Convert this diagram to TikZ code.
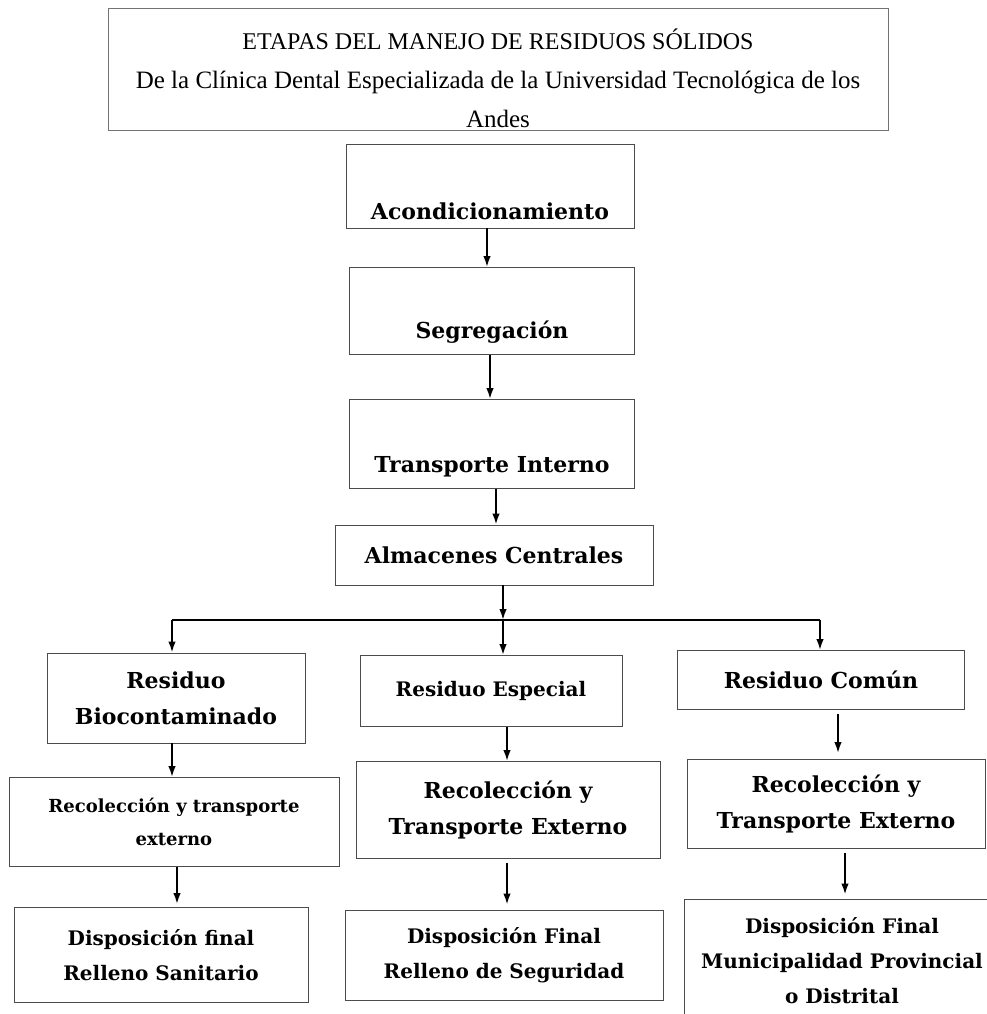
\documentclass[tikz,border=0pt]{standalone}
\usepackage{fontspec}
\setmainfont{DejaVu Serif}
\newfontfamily\titlefont{Liberation Serif}
\usetikzlibrary{arrows.meta}
\begin{document}
\begin{tikzpicture}[x=1pt, y=-1pt,
    box/.style={draw=black!70, line width=0.9pt, inner sep=0pt, align=center,
      font=\bfseries\fontsize{22}{36}\selectfont},
    arr/.style={-{Latex[length=11pt,width=7.5pt]}, line width=1.8pt}]
    \useasboundingbox (0,0) rectangle (987,1014);
    \clip (0,0) rectangle (987,1014);

    \node[box, draw=black!55, font=\titlefont\fontsize{25}{39}\selectfont,
      minimum width=780pt, text height=120pt, text depth=2pt] (title) at (498,69)
      {{\fontsize{24}{39}\selectfont ETAPAS DEL MANEJO DE RESIDUOS SÓLIDOS}\\
       De la Clínica Dental Especializada de la Universidad Tecnológica de los\\
       Andes};

    \node[box, minimum width=288pt, text height=75pt, text depth=9pt] (acond) at (490,186) {Acondicionamiento};
    \node[box, minimum width=285pt, text height=71pt, text depth=16pt] (segreg) at (492,311) {Segregación};
    \node[box, minimum width=285pt, text height=73pt, text depth=16pt] (transint) at (492,444) {Transporte Interno};
    \node[box, minimum width=318pt, minimum height=60pt] (almacen) at (494,555) {Almacenes Centrales};

    \node[box, minimum width=258pt, minimum height=90pt] (bio) at (176,698) {Residuo\\Biocontaminado};
    \node[box, font=\bfseries\fontsize{20}{35}\selectfont, minimum width=262pt, minimum height=71pt] (especial) at (491,691) {Residuo Especial};
    \node[box, minimum width=287pt, minimum height=59pt] (comun) at (821,680) {Residuo Común};

    \node[box, font=\bfseries\fontsize{18}{33}\selectfont, minimum width=330pt, minimum height=89pt] (recbio) at (174,822) {Recolección y transporte\\externo};
    \node[box, minimum width=304pt, minimum height=97pt] (recesp) at (508,810) {Recolección y\\Transporte Externo};
    \node[box, minimum width=298pt, minimum height=89pt] (reccom) at (836,804) {Recolección y\\Transporte Externo};

    \node[box, font=\bfseries\fontsize{20}{35}\selectfont, minimum width=294pt, minimum height=95pt] (dispbio) at (161,955) {Disposición final\\Relleno Sanitario};
    \node[box, font=\bfseries\fontsize{20}{35}\selectfont, minimum width=318pt, minimum height=90pt] (dispesp) at (504,955) {Disposición Final\\Relleno de Seguridad};
    \node[box, font=\bfseries\fontsize{20}{35}\selectfont, minimum width=315pt, minimum height=124pt] (dispcom) at (842,961) {Disposición Final\\Municipalidad Provincial\\o Distrital};

    \coordinate (split) at (503,620);
    \coordinate (hl) at (172,620);
    \coordinate (hr) at (820,620);

    \draw[arr] ([xshift=-3pt]acond.south) -- ([xshift=-3pt]acond.south |- segreg.north);
    \draw[arr] ([xshift=-2pt]segreg.south) -- ([xshift=-2pt]segreg.south |- transint.north);
    \draw[arr] ([xshift=4pt]transint.south) -- ([xshift=4pt]transint.south |- almacen.north);
    \draw[arr] (almacen.south -| split) -- (split);
    \draw[line width=1.8pt] (hl) -- (hr);
    \draw[arr] (hl) -- (hl |- bio.north);
    \draw[arr] (split) -- (split |- especial.north);
    \draw[arr] (hr) -- (hr |- comun.north);

    \draw[arr] ([xshift=-4pt]bio.south) -- ([xshift=-4pt]bio.south |- recbio.north);
    \draw[arr] ([xshift=16pt]especial.south) -- ([xshift=16pt]especial.south |- recesp.north);
    \draw[arr, shorten <=4pt, shorten >=6pt] ([xshift=17pt]comun.south) -- ([xshift=17pt]comun.south |- reccom.north);

    \draw[arr, shorten >=3pt] ([xshift=3pt]recbio.south) -- ([xshift=3pt]recbio.south |- dispbio.north);
    \draw[arr, shorten <=4pt, shorten >=5pt] ([xshift=-1pt]recesp.south) -- ([xshift=-1pt]recesp.south |- dispesp.north);
    \draw[arr, shorten <=4pt, shorten >=4pt] ([xshift=9pt]reccom.south) -- ([xshift=9pt]reccom.south |- dispcom.north);
\end{tikzpicture}
\end{document}
